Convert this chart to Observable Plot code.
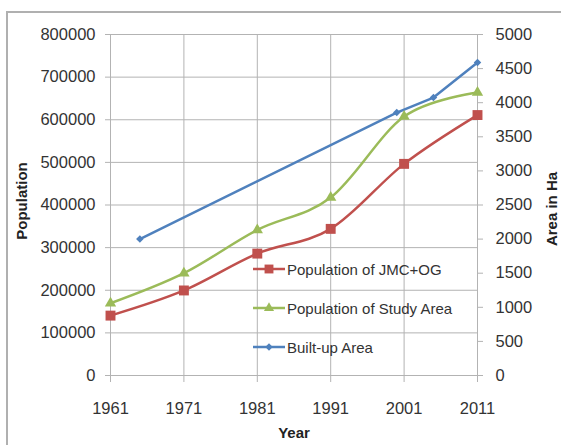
<!DOCTYPE html>
<html><head><meta charset="utf-8">
<script src="https://cdn.jsdelivr.net/npm/d3@7"></script>
<script src="https://cdn.jsdelivr.net/npm/@observablehq/plot@0.6"></script>
<style>
body{margin:0;background:#fff;font-family:"Liberation Sans",Arial,sans-serif;}
#wrap{position:relative;width:561px;height:445px;overflow:hidden;background:#fff;}
#border{position:absolute;left:6px;top:11px;width:700px;height:600px;border-left:2px solid #b0b0b0;border-top:2px solid #b0b0b0;pointer-events:none;}
#legend{position:absolute;left:0;top:0;}
.row{position:absolute;height:18px;display:flex;align-items:center;font-size:15px;color:#333;white-space:nowrap;}
.row svg{display:block;margin-right:2px;}
</style></head>
<body>
<div id="wrap"><div id="chart"></div><div id="legend"></div><div id="border"></div></div>
<script>
// ---- data ----
const years = [1961, 1971, 1981, 1991, 2001, 2011];
const popJMC = [140500, 199500, 286000, 344000, 496500, 611000];
const popStudy = [169500, 240000, 341500, 417500, 607500, 664000];
const builtYears = [1965, 2000, 2005, 2011];
const builtArea = [2000, 3855, 4075, 4590];
const popTicks = [0, 100000, 200000, 300000, 400000, 500000, 600000, 700000, 800000];
const areaTicks = [0, 500, 1000, 1500, 2000, 2500, 3000, 3500, 4000, 4500, 5000];
const yearTicks = [1961, 1971, 1981, 1991, 2001, 2011];
const seriesNames = ["Population of JMC+OG", "Population of Study Area", "Built-up Area"];
const colors = ["#C0504D", "#9BBB59", "#4F81BD"];

// secondary axis mapping (area axis max -> population axis max)
const k = popTicks[popTicks.length - 1] / areaTicks[areaTicks.length - 1];

const jmc = years.map((year, i) => ({year, v: popJMC[i]}));
const study = years.map((year, i) => ({year, v: popStudy[i]}));
const built = builtYears.map((year, i) => ({year, v: builtArea[i] * k}));

const grid = "#b3b3b3";
const fmt = d => String(Math.round(d));

const chart = Plot.plot({
  width: 561, height: 445,
  marginLeft: 110, marginRight: 84, marginTop: 34, marginBottom: 70,
  style: {fontFamily: "Liberation Sans, Arial, sans-serif", fontSize: "16.5px", background: "transparent", color: "#333"},
  x: {domain: [yearTicks[0], yearTicks[yearTicks.length - 1]]},
  y: {domain: [0, popTicks[popTicks.length - 1]]},
  marks: [
    Plot.gridY(popTicks, {stroke: grid, strokeOpacity: 1}),
    Plot.gridX(yearTicks, {stroke: grid, strokeOpacity: 1}),
    Plot.axisY(popTicks, {anchor: "left", tickSize: 5, tickPadding: 10, tickFormat: fmt, label: null, stroke: grid, fill: "#333"}),
    Plot.axisY(areaTicks.map(a => a * k), {anchor: "right", tickSize: 5, tickPadding: 13, tickFormat: d => fmt(d / k), label: null, stroke: grid, fill: "#333"}),
    Plot.axisX(yearTicks, {anchor: "bottom", tickSize: 7, tickPadding: 20, tickFormat: fmt, label: null, stroke: grid, fill: "#333"}),
    Plot.text(["Population"], {frameAnchor: "left", textAnchor: "middle", dx: -88, dy: -4, rotate: -90, fontWeight: "bold", fontSize: 15, fill: "#222"}),
    Plot.text(["Area in Ha"], {frameAnchor: "right", textAnchor: "middle", dx: 75, dy: 4, rotate: -90, fontWeight: "bold", fontSize: 15, fill: "#222"}),
    Plot.text(["Year"], {frameAnchor: "bottom", dy: 62, fontWeight: "bold", fontSize: 15, fill: "#222"}),
    Plot.line(built, {x: "year", y: "v", stroke: colors[2], strokeWidth: 2.5}),
    Plot.line(study, {x: "year", y: "v", stroke: colors[1], strokeWidth: 2.5, curve: "cardinal"}),
    Plot.line(jmc, {x: "year", y: "v", stroke: colors[0], strokeWidth: 2.5, curve: "cardinal"}),
    Plot.dot(built, {x: "year", y: "v", symbol: "diamond2", fill: colors[2], r: 3.4}),
    Plot.dot(study, {x: "year", y: "v", symbol: "triangle", fill: colors[1], r: 4.2}),
    Plot.dot(jmc, {x: "year", y: "v", symbol: "square", fill: colors[0], r: 5.6})
  ]
});
document.getElementById("chart").appendChild(chart);

// legend
const symbols = [[d3.symbolSquare, Math.PI * 5.6 * 5.6 * 0.8], [d3.symbolTriangle, Math.PI * 4.2 * 4.2 * 0.8], [d3.symbolDiamond2, Math.PI * 3.4 * 3.4]];
const legend = document.getElementById("legend");
const rowTops = [260, 299, 338];
seriesNames.forEach((name, i) => {
  const row = document.createElement("div");
  row.className = "row";
  row.style.left = "253px";
  row.style.top = rowTops[i] + "px";
  const path = d3.symbol(symbols[i][0], symbols[i][1])();
  row.innerHTML = `<svg width="32" height="18"><line x1="0" x2="32" y1="9" y2="9" stroke="${colors[i]}" stroke-width="2.5"/><path transform="translate(16,9)" d="${path}" fill="${colors[i]}"/></svg><span>${name}</span>`;
  legend.appendChild(row);
});
</script>
</body></html>
